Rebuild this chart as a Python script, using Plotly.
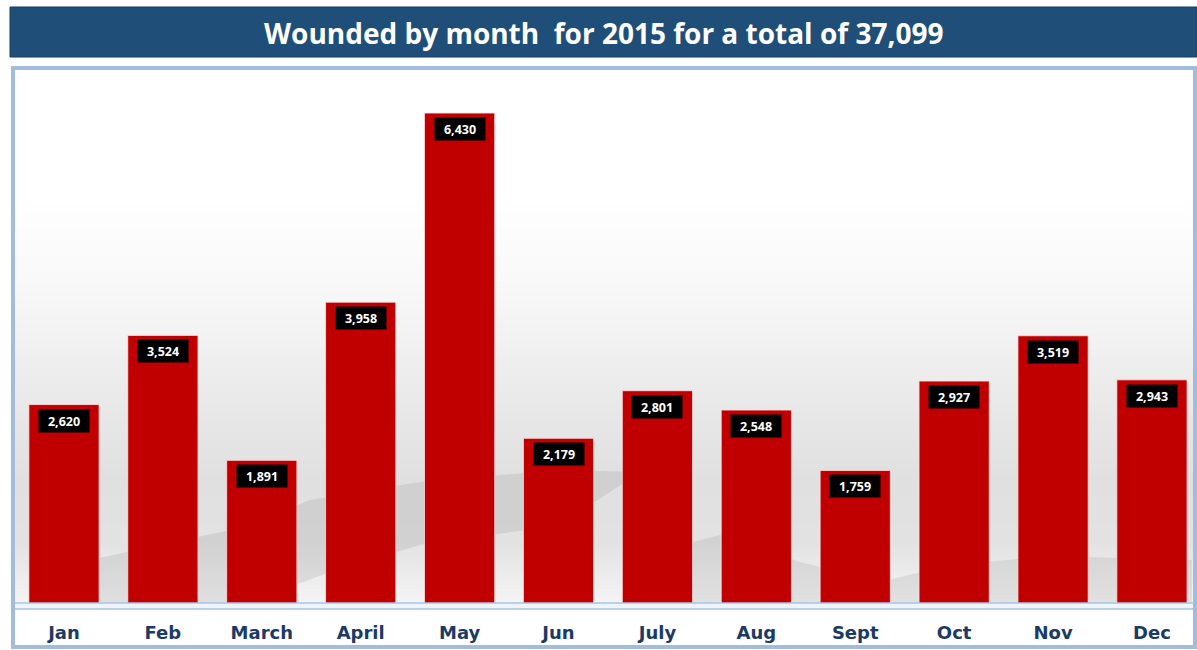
import plotly.graph_objects as go

months = ["Jan", "Feb", "March", "April", "May", "Jun", "July", "Aug", "Sept", "Oct", "Nov", "Dec"]
wounded = [2620, 3524, 1891, 3958, 6430, 2179, 2801, 2548, 1759, 2927, 3519, 2943]
labels = ["2,620", "3,524", "1,891", "3,958", "6,430", "2,179", "2,801", "2,548", "1,759", "2,927", "3,519", "2,943"]
title_text = "Wounded by month \u00a0for 2015 for a total of 37,099"

W, H = 1197, 650
ML, MR, MT, MB = 16, 4, 69, 45
PL, PR, PT, PB = ML, W - MR, MT, H - MB


def px_x(x):
    return (x - PL) / (PR - PL)


def px_y(y):
    return (PB - y) / (PB - PT)


fig = go.Figure()
fig.add_trace(go.Bar(
    x=months, y=wounded,
    marker=dict(color="#c00000", line=dict(color="rgba(255,225,225,0.8)", width=1)),
    width=0.71, hoverinfo="x+y",
))

shapes = []
# title bar
shapes.append(dict(type="rect", xref="paper", yref="paper",
                   x0=px_x(10), x1=px_x(1197), y0=px_y(57), y1=px_y(7),
                   fillcolor="#1f4e79", line=dict(color="#173d60", width=1), layer="below"))
# background gradient
stops = [(72, 255), (195, 255), (300, 247), (400, 233), (480, 224), (540, 226), (580, 237), (603, 244)]
for i in range(len(stops) - 1):
    (ya, ga), (yb, gb) = stops[i], stops[i + 1]
    n = 12
    for k in range(n):
        y0 = ya + (yb - ya) * k / n
        y1 = ya + (yb - ya) * (k + 1) / n
        g = int(round(ga + (gb - ga) * (k + 0.5) / n))
        shapes.append(dict(type="rect", xref="paper", yref="paper",
                           x0=px_x(12), x1=px_x(1194), y0=px_y(y1 + 0.6), y1=px_y(y0),
                           fillcolor=f"rgb({g},{g},{g})", line=dict(width=0), layer="below"))


def path(points):
    s = "M " + " L ".join(f"{px_x(x):.5f},{px_y(y):.5f}" for x, y in points) + " Z"
    return s


# shadow swooshes
shapes.append(dict(type="path", xref="paper", yref="paper",
                   path=path([(80, 603), (90, 560), (160, 545), (240, 528), (310, 500), (420, 482), (560, 470),
                              (640, 472), (560, 525), (420, 545), (330, 572), (260, 598), (220, 603)]),
                   fillcolor="rgba(150,150,150,0.22)", line=dict(width=0), layer="below"))
shapes.append(dict(type="path", xref="paper", yref="paper",
                   path=path([(660, 603), (670, 548), (720, 535), (800, 562), (880, 582), (950, 565),
                              (1050, 556), (1192, 560), (1192, 603)]),
                   fillcolor="rgba(150,150,150,0.2)", line=dict(width=0), layer="below"))
# baseline double line
shapes.append(dict(type="rect", xref="paper", yref="paper",
                   x0=px_x(12), x1=px_x(1194), y0=px_y(609), y1=px_y(603),
                   fillcolor="#eef4fb", line=dict(color="#a9c4e2", width=1.5), layer="above"))
# frame
shapes.append(dict(type="rect", xref="paper", yref="paper",
                   x0=px_x(13), x1=px_x(1195), y0=px_y(647), y1=px_y(68),
                   fillcolor="rgba(0,0,0,0)", line=dict(color="#a3bcdc", width=4), layer="above"))

annotations = []
for m, v, t in zip(months, wounded, labels):
    annotations.append(dict(x=m, y=v, text=f"<b>{t}</b>", showarrow=False, yanchor="top",
                            yshift=-4, bgcolor="#000000", width=46, height=18, borderpad=2,
                            font=dict(family="Open Sans", size=12.5, color="#ffffff")))
annotations.append(dict(x=px_x(603), y=px_y(33), xref="paper", yref="paper", showarrow=False,
                        text=f"<b>{title_text}</b>", xanchor="center", yanchor="middle",
                        font=dict(family="Open Sans", size=28, color="#ffffff")))

fig.update_layout(
    width=W, height=H,
    margin=dict(l=ML, r=MR, t=MT, b=MB),
    paper_bgcolor="#ffffff", plot_bgcolor="rgba(0,0,0,0)",
    showlegend=False,
    shapes=shapes, annotations=annotations,
    xaxis=dict(range=[-0.485, 11.415], showgrid=False, zeroline=False, showline=False,
               ticks="", ticklabelstandoff=15,
               tickfont=dict(family="DejaVu Sans", size=18, color="#1b3a66", weight="bold"),
               fixedrange=True),
    yaxis=dict(range=[0, 7006], showgrid=False, zeroline=False, showline=False,
               showticklabels=False, fixedrange=True),
)

fig.write_html("out.html", config={"displayModeBar": False},
               post_script="document.body.style.margin='0';")
